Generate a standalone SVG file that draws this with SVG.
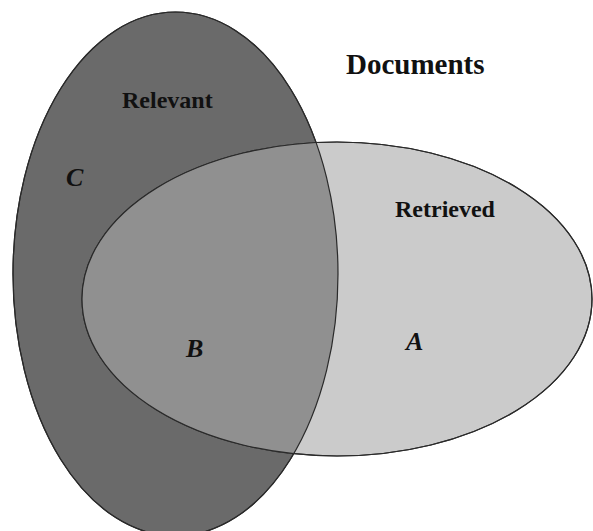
<svg xmlns="http://www.w3.org/2000/svg" width="593" height="531" viewBox="0 0 593 531">
<style>
.lbl{font-family:"Liberation Serif","Times New Roman",serif;font-weight:bold;fill:#111}
.it{font-family:"Liberation Serif","Times New Roman",serif;font-weight:bold;font-style:italic;fill:#111}
.edge{stroke:#2a2a2a;stroke-width:1.2}
</style>
<defs>
<clipPath id="relClip"><ellipse cx="175.5" cy="274" rx="162.5" ry="262"/></clipPath>
</defs>
<rect width="593" height="531" fill="#ffffff"/>
<g id="relevant">
<ellipse cx="175.5" cy="274" rx="162.5" ry="262" fill="#6a6a6a" class="edge"/>
</g>
<g id="retrieved">
<ellipse cx="337" cy="299" rx="255" ry="157" fill="#cbcbcb" class="edge"/>
<ellipse cx="337" cy="299" rx="255" ry="157" fill="#909090" clip-path="url(#relClip)"/>
<ellipse cx="337" cy="299" rx="255" ry="157" fill="none" class="edge"/>
<ellipse cx="175.5" cy="274" rx="162.5" ry="262" fill="none" class="edge"/>
</g>
<g id="labels">
<text class="lbl" x="346" y="74" font-size="29">Documents</text>
<text class="lbl" x="122" y="108" font-size="24">Relevant</text>
<text class="lbl" x="395" y="217" font-size="24">Retrieved</text>
<text class="it" x="66" y="186" font-size="26">C</text>
<text class="it" x="186" y="357" font-size="26">B</text>
<text class="it" x="406" y="350" font-size="26">A</text>
</g>
</svg>
